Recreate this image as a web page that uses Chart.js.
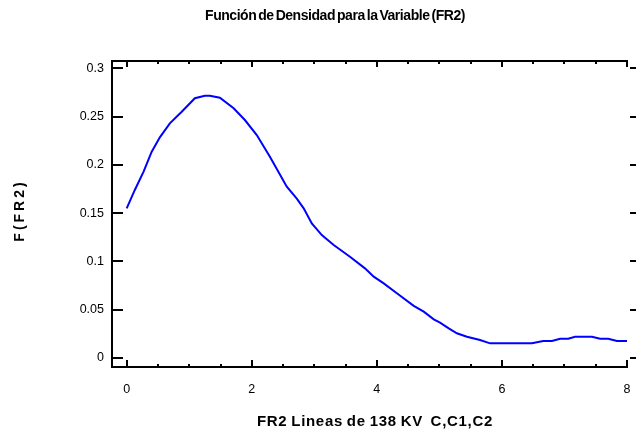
<!DOCTYPE html>
<html>
<head>
<meta charset="utf-8">
<script src="https://cdn.jsdelivr.net/npm/chart.js@4"></script>
<style>
  html, body { margin: 0; padding: 0; background: #fff; }
  #wrap { width: 636px; height: 436px; }
</style>
</head>
<body>
<div id="wrap"><canvas id="c" width="636" height="436"></canvas></div>
<script>
// ---- data ----
const chartTitle = "Función de Densidad para la Variable (FR2)";
const xAxisTitle = "FR2 Lineas de 138 KV  C,C1,C2";
const yAxisTitle = "F(FR2)";
const xValues = [0, 0.13, 0.27, 0.40, 0.53, 0.69, 0.88, 1.09, 1.25, 1.33, 1.49, 1.71, 1.89, 2.08, 2.29, 2.56, 2.72, 2.83, 2.96, 3.12, 3.31, 3.57, 3.81, 3.95, 4.11, 4.32, 4.59, 4.75, 4.91, 5.01, 5.15, 5.28, 5.44, 5.65, 5.81, 6.48, 6.66, 6.80, 6.93, 7.06, 7.17, 7.44, 7.57, 7.70, 7.84, 8.0];
const densityValues = [0.155, 0.174, 0.193, 0.2136, 0.2285, 0.243, 0.255, 0.269, 0.2715, 0.2715, 0.2695, 0.2585, 0.2464, 0.2308, 0.2084, 0.1773, 0.165, 0.155, 0.1394, 0.1273, 0.117, 0.1049, 0.0928, 0.0842, 0.0773, 0.067, 0.054, 0.048, 0.040, 0.0366, 0.0307, 0.0256, 0.022, 0.0186, 0.0152, 0.0152, 0.0176, 0.0176, 0.02, 0.02, 0.022, 0.022, 0.02, 0.02, 0.0176, 0.0176];
const xTickValues = [0, 2, 4, 6, 8];
const xMinorTickValues = [0.5, 1, 1.5, 2.5, 3, 3.5, 4.5, 5, 5.5, 6.5, 7, 7.5];
const yTickValues = [0, 0.05, 0.1, 0.15, 0.2, 0.25, 0.3];

const FONT = '"Liberation Sans", Arial, sans-serif';

const points = xValues.map((x, i) => ({ x: x, y: densityValues[i] }));

function spacedText(ctx, text, cx, cy, spacing) {
  const widths = Array.from(text).map(ch => ctx.measureText(ch).width);
  const total = widths.reduce((s, w) => s + w, 0) + spacing * (widths.length - 1);
  let x = cx - total / 2;
  ctx.textAlign = 'left';
  Array.from(text).forEach((ch, i) => {
    ctx.fillText(ch, x, cy);
    x += widths[i] + spacing;
  });
}

const framePlugin = {
  id: 'frame',
  afterDraw(chart) {
    const ctx = chart.ctx;
    const a = chart.chartArea;
    const xs = chart.scales.x, ys = chart.scales.y;
    ctx.save();
    ctx.strokeStyle = '#000';
    ctx.lineWidth = 2;
    ctx.lineCap = 'butt';
    ctx.beginPath();
    ctx.moveTo(a.left, a.top); ctx.lineTo(a.left, a.bottom + 1);
    ctx.moveTo(a.left - 1, a.bottom); ctx.lineTo(a.right + 1, a.bottom);
    ctx.moveTo(a.left - 1, a.top); ctx.lineTo(a.right + 1, a.top);
    ctx.stroke();
    ctx.beginPath();
    xTickValues.forEach(v => {
      const px = Math.round(xs.getPixelForValue(v));
      ctx.moveTo(px, a.bottom); ctx.lineTo(px, a.bottom - 7);
      ctx.moveTo(px, a.top); ctx.lineTo(px, a.top + 6);
    });
    xMinorTickValues.forEach(v => {
      const px = Math.round(xs.getPixelForValue(v));
      ctx.moveTo(px, a.bottom); ctx.lineTo(px, a.bottom - 3);
      ctx.moveTo(px, a.top); ctx.lineTo(px, a.top + 3);
    });
    yTickValues.forEach(v => {
      const py = Math.round(ys.getPixelForValue(v));
      ctx.moveTo(a.left, py); ctx.lineTo(a.left + 11, py);
      ctx.moveTo(a.right + 3, py); ctx.lineTo(a.right + 9, py);
    });
    ctx.stroke();
    // texts
    ctx.fillStyle = '#000';
    ctx.textAlign = 'center';
    ctx.textBaseline = 'middle';
    ctx.font = 'bold 14px ' + FONT;
    ctx.letterSpacing = '-0.45px';
    ctx.wordSpacing = '-1.5px';
    ctx.fillText(chartTitle, 335, 16);
    ctx.font = 'bold 15px ' + FONT;
    ctx.letterSpacing = '0.7px';
    ctx.wordSpacing = '-1px';
    ctx.fillText(xAxisTitle, 375, 422);
    ctx.letterSpacing = '0px';
    ctx.wordSpacing = '0px';
    ctx.translate(20, 212);
    ctx.rotate(-Math.PI / 2);
    ctx.font = 'bold 14px ' + FONT;
    spacedText(ctx, yAxisTitle, 0, 0, 3);
    ctx.restore();
  }
};

new Chart(document.getElementById('c'), {
  type: 'scatter',
  data: {
    datasets: [{
      data: points,
      showLine: true,
      borderColor: '#0000ff',
      borderWidth: 2,
      pointRadius: 0,
      tension: 0,
      fill: false
    }]
  },
  options: {
    responsive: false,
    animation: false,
    layout: { padding: { top: 61, right: 9, left: 0, bottom: 0 } },
    plugins: { legend: { display: false }, title: { display: false }, tooltip: { enabled: false } },
    scales: {
      x: {
        type: 'linear',
        min: -0.235,
        max: 8,
        afterBuildTicks: s => { s.ticks = xTickValues.map(v => ({ value: v })); },
        afterFit: s => { s.height = 69; },
        grid: { display: false, drawTicks: true, tickLength: 15 },
        border: { display: false },
        ticks: {
          padding: 0,
          color: '#000',
          font: { family: FONT, size: 12.5 },
          maxRotation: 0,
          callback: v => String(v)
        }
      },
      y: {
        type: 'linear',
        min: -0.0093,
        max: 0.3075,
        afterBuildTicks: s => { s.ticks = yTickValues.map(v => ({ value: v })); },
        afterFit: s => { s.width = 112; },
        grid: { display: false, drawTicks: true, tickLength: 8 },
        border: { display: false },
        ticks: {
          padding: 0,
          color: '#000',
          font: { family: FONT, size: 12.5 },
          callback: v => String(v)
        }
      }
    }
  },
  plugins: [framePlugin]
});
</script>
</body>
</html>
